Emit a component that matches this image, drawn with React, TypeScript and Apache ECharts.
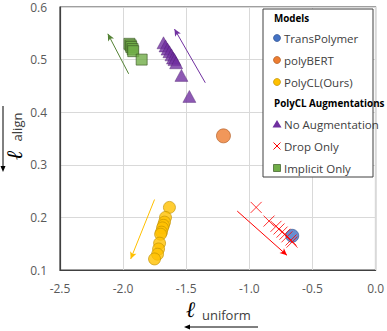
import React, { useEffect, useRef } from "react";
import * as echarts from "echarts";

const transPolymer: [number, number][] = [[-0.66, 0.165]];
const polyBERT: [number, number][] = [[-1.205, 0.355]];
const polyCL: [number, number][] = [
  [-1.633, 0.219], [-1.664, 0.2], [-1.672, 0.191], [-1.68, 0.185], [-1.688, 0.18],
  [-1.696, 0.172], [-1.703, 0.168], [-1.711, 0.151], [-1.719, 0.14], [-1.727, 0.13], [-1.751, 0.121],
];
const noAug: [number, number][] = [
  [-1.68, 0.532], [-1.664, 0.526], [-1.648, 0.52], [-1.633, 0.515], [-1.617, 0.509],
  [-1.605, 0.503], [-1.593, 0.5], [-1.58, 0.494], [-1.538, 0.47], [-1.475, 0.43],
];
const dropOnly: [number, number][] = [
  [-0.946, 0.219], [-0.844, 0.193], [-0.789, 0.183], [-0.765, 0.178], [-0.741, 0.172],
  [-0.718, 0.168], [-0.702, 0.163], [-0.67, 0.157], [-0.662, 0.153],
];
const implicitOnly: [number, number][] = [
  [-1.95, 0.53], [-1.94, 0.527], [-1.935, 0.524], [-1.925, 0.52], [-1.92, 0.516], [-1.853, 0.5],
];
// trend arrows: [from, to]
const arrowNoAug: [number, number][] = [[-1.349, 0.456], [-1.593, 0.558]];
const arrowImplicit: [number, number][] = [[-1.956, 0.473], [-2.121, 0.549]];
const arrowPolyCL: [number, number][] = [[-1.751, 0.234], [-1.94, 0.121]];
const arrowDrop: [number, number][] = [[-1.096, 0.212], [-0.702, 0.128]];

const xMin = -2.5, xMax = 0, xStep = 0.5;
const yMin = 0.1, yMax = 0.6, yStep = 0.1;

const legendModels = ["TransPolymer", "polyBERT", "PolyCL(Ours)"];
const legendAug = ["No Augmentation", "Drop Only", "Implicit Only"];

const FONT = "Open Sans";
const X_PATH = "path://M0,0L10,10M10,0L0,10";

function arrowLine(a: [number, number][], color: string) {
  return {
    silent: true,
    symbol: ["none", "arrow"],
    symbolSize: [5, 7],
    lineStyle: { color, type: "solid", width: 1 },
    label: { show: false },
    data: [[{ coord: a[0] }, { coord: a[1] }]],
  };
}

export default function App() {
  const ref = useRef<HTMLDivElement>(null);
  useEffect(() => {
    const chart = echarts.init(ref.current!, null, { renderer: "svg" });
    const lx = 263, ly = 9;
    const rowY = [18, 38, 60, 82, 103, 124, 146, 168];
    const txt = (t: string, y: number, bold = false, x = 284) => ({
      type: "text",
      x,
      y,
      z: 101,
      style: {
        text: t,
        fontFamily: FONT,
        fontSize: bold ? 9.8 : 11.5,
        fontWeight: bold ? "bold" : "normal",
        fill: bold ? "#000" : "#404040",
        verticalAlign: "middle",
      },
    });
    const mx = 277;
    const graphic: any[] = [
      { type: "rect", z: 100, shape: { x: lx, y: ly, width: 110, height: 168 }, style: { fill: "#fff", stroke: "#404040", lineWidth: 1 } },
      txt("Models", rowY[0], true, 274),
      txt(legendModels[0], rowY[1]),
      txt(legendModels[1], rowY[2]),
      txt(legendModels[2], rowY[3]),
      txt("PolyCL Augmentations", rowY[4], true, 274),
      txt(legendAug[0], rowY[5]),
      txt(legendAug[1], rowY[6]),
      txt(legendAug[2], rowY[7]),
      { type: "circle", z: 101, shape: { cx: mx, cy: rowY[1], r: 3.5 }, style: { fill: "#4472C4", stroke: "#2f528f", lineWidth: 0.7 } },
      { type: "circle", z: 101, shape: { cx: mx, cy: rowY[2], r: 3.5 }, style: { fill: "#ED7D31", stroke: "#ae5a21", lineWidth: 0.7 } },
      { type: "circle", z: 101, shape: { cx: mx, cy: rowY[3], r: 3.5 }, style: { fill: "#FFC000", stroke: "#bf9000", lineWidth: 0.7 } },
      { type: "polygon", z: 101, shape: { points: [[mx, rowY[5] - 4], [mx + 4.5, rowY[5] + 3.5], [mx - 4.5, rowY[5] + 3.5]] }, style: { fill: "#7030A0" } },
      { type: "line", z: 101, shape: { x1: mx - 3.5, y1: rowY[6] - 3.5, x2: mx + 3.5, y2: rowY[6] + 3.5 }, style: { stroke: "#FF0000", lineWidth: 1 } },
      { type: "line", z: 101, shape: { x1: mx + 3.5, y1: rowY[6] - 3.5, x2: mx - 3.5, y2: rowY[6] + 3.5 }, style: { stroke: "#FF0000", lineWidth: 1 } },
      { type: "rect", z: 101, shape: { x: mx - 3.5, y: rowY[7] - 3.5, width: 7, height: 7 }, style: { fill: "#70AD47", stroke: "#385723", lineWidth: 0.7 } },
      // y axis title
      {
        type: "group",
        x: 14,
        y: 138,
        rotation: Math.PI / 2,
        children: [
          { type: "text", x: -17, y: 0, style: { text: "ℓ", fontFamily: "DejaVu Serif", fontStyle: "italic", fontWeight: "bold", fontSize: 22, fill: "#000", align: "center", verticalAlign: "middle" } },
          { type: "text", x: 11, y: 3, style: { text: "align", fontFamily: FONT, fontSize: 13, fill: "#404040", align: "center", verticalAlign: "middle" } },
        ],
      },
      { type: "line", shape: { x1: 3, y1: 106, x2: 3, y2: 167 }, style: { stroke: "#000", lineWidth: 1 } },
      { type: "polygon", shape: { points: [[0.5, 166], [5.5, 166], [3, 172]] }, style: { fill: "#000" } },
      // x axis title
      { type: "text", x: 191, y: 309, style: { text: "ℓ", fontFamily: "DejaVu Serif", fontStyle: "italic", fontWeight: "bold", fontSize: 22, fill: "#000", align: "center", verticalAlign: "middle" } },
      { type: "text", x: 202, y: 315, style: { text: "uniform", fontFamily: FONT, fontSize: 13, fill: "#404040", verticalAlign: "middle" } },
      { type: "line", shape: { x1: 189, y1: 327, x2: 258, y2: 327 }, style: { stroke: "#000", lineWidth: 1 } },
      { type: "polygon", shape: { points: [[184, 327], [190, 324.5], [190, 329.5]] }, style: { fill: "#000" } },
    ];

    chart.setOption({
      animation: false,
      grid: { left: 60, right: 10, top: 7, bottom: 61, show: true, borderColor: "#404040", borderWidth: 1.2, backgroundColor: "transparent" },
      xAxis: {
        type: "value", min: xMin, max: xMax, interval: xStep,
        axisLine: { show: true, onZero: false, lineStyle: { color: "#404040", width: 1.2 } },
        axisTick: { show: false },
        axisLabel: { color: "#595959", fontFamily: FONT, fontSize: 12, margin: 12, formatter: (v: number) => v.toFixed(1) },
        splitLine: { show: true, lineStyle: { color: "#d9d9d9", width: 1 } },
      },
      yAxis: {
        type: "value", min: yMin, max: yMax, interval: yStep,
        axisLine: { show: true, onZero: false, lineStyle: { color: "#404040", width: 1.2 } },
        axisTick: { show: false },
        axisLabel: { color: "#595959", fontFamily: FONT, fontSize: 12, margin: 13, formatter: (v: number) => v.toFixed(1) },
        splitLine: { show: true, lineStyle: { color: "#d9d9d9", width: 1 } },
      },
      series: [
        {
          name: "Implicit Only", type: "scatter", data: implicitOnly, symbol: "rect", symbolSize: 11,
          itemStyle: { color: "#70AD47", borderColor: "#385723", borderWidth: 0.8 },
          markLine: arrowLine(arrowImplicit, "#548235"),
        },
        {
          name: "No Augmentation", type: "scatter", data: noAug, symbol: "triangle", symbolSize: [13, 12],
          itemStyle: { color: "#7030A0", borderColor: "#4a1f6b", borderWidth: 0.5 },
          markLine: arrowLine(arrowNoAug, "#7030A0"),
        },
        {
          name: "polyBERT", type: "scatter", data: polyBERT, symbol: "circle", symbolSize: 14,
          itemStyle: { color: "#ED7D31", borderColor: "#ae5a21", borderWidth: 0.8 },
        },
        {
          name: "PolyCL(Ours)", type: "scatter", data: polyCL, symbol: "circle", symbolSize: 12,
          itemStyle: { color: "#FFC000", borderColor: "#bf9000", borderWidth: 0.8 },
          markLine: arrowLine(arrowPolyCL, "#FFC000"),
        },
        {
          name: "TransPolymer", type: "scatter", data: transPolymer, symbol: "circle", symbolSize: 13,
          itemStyle: { color: "#4472C4", borderColor: "#2f528f", borderWidth: 0.8 },
        },
        {
          name: "Drop Only", type: "scatter", data: dropOnly, symbol: X_PATH, symbolSize: 11,
          itemStyle: { color: "none", borderColor: "#FF0000", borderWidth: 1 },
          markLine: arrowLine(arrowDrop, "#FF0000"),
        },
      ],
      graphic,
    });
    return () => chart.dispose();
  }, []);
  return <div ref={ref} style={{ width: 387, height: 331, position: "absolute", left: 0, top: 0 }} />;
}
